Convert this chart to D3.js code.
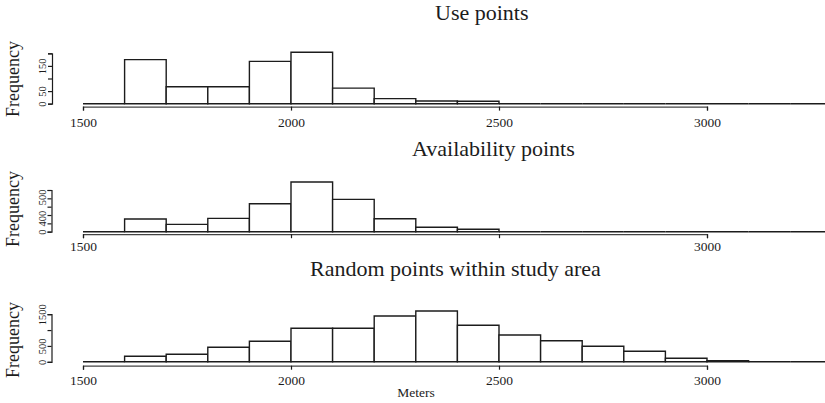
<!DOCTYPE html>
<html>
<head>
<meta charset="utf-8">
<script src="https://cdn.jsdelivr.net/npm/d3@7"></script>
<style>
  html, body { margin: 0; padding: 0; background: #fff; }
  svg { display: block; font-family: "Liberation Serif", "DejaVu Serif", serif; }
</style>
</head>
<body>
<svg id="chart" width="825" height="403"></svg>
<script>
// ---------- data ----------
const binStarts = [1500, 1600, 1700, 1800, 1900, 2000, 2100, 2200, 2300, 2400,
                   2500, 2600, 2700, 2800, 2900, 3000, 3100, 3200, 3300];
const binWidth = 100;

const useCounts    = [0, 175, 67, 67, 168, 204, 62, 20, 11, 10, 0, 0, 0, 0, 0, 0, 0, 0, 0];
const availCounts  = [0, 152, 88, 160, 336, 596, 387, 156, 53, 30, 0, 0, 0, 0, 0, 0, 0, 0, 0];
const randomCounts = [0, 173, 236, 457, 646, 1056, 1056, 1443, 1601, 1150, 845, 665, 488, 331, 110, 38, 0, 0, 0];

const titles = ["Use points", "Availability points", "Random points within study area"];
const xTickValues = [1500, 2000, 2500, 3000];
const xTickLabels = [
  ["1500", "2000", "2500", "3000"],
  ["1500", "", "", "3000"],
  ["1500", "2000", "2500", "3000"]
];
const yTickValues = [
  [0, 50, 100, 150, 200],
  [0, 100, 200, 300, 400, 500],
  [0, 500, 1000, 1500]
];
const yTickLabels = [
  ["0", "50", "", "150", ""],
  ["0", "", "", "", "400", "500"],
  ["0", "500", "", "1500"]
];
const yLabel = "Frequency";
const xLabel = "Meters";

// ---------- layout ----------
const svg = d3.select("#chart");
const ink = "#1c1c1c";

const x = d3.scaleLinear().domain([1500, 3000]).range([83, 707]);

const panels = [
  { counts: useCounts,    base: 103.7, top: 53.3, yMax: 200,  axisY: 106.6, titleX: 435, titleY: 20,  labelBase: 127, freqY: 79,  axisX: 52 },
  { counts: availCounts,  base: 231.7, top: 190,  yMax: 500,  axisY: 234.2, titleX: 412, titleY: 156, labelBase: 251, freqY: 209, axisX: 51.5 },
  { counts: randomCounts, base: 361.8, top: 314.2, yMax: 1500, axisY: 365.7, titleX: 310, titleY: 276, labelBase: 385, freqY: 340, axisX: 51.5 }
];

panels.forEach((p, i) => {
  const y = d3.scaleLinear().domain([0, p.yMax]).range([p.base, p.top]);
  const g = svg.append("g");

  // bars as closed paths (zero-count bins draw as flat lines, as in R's hist)
  g.selectAll("path.bar")
    .data(binStarts.map((s, k) => ({ s, c: p.counts[k] })))
    .join("path")
    .attr("class", "bar")
    .attr("d", d => {
      const x0 = x(d.s), x1 = x(d.s + binWidth), y0 = y(0), y1 = y(d.c);
      return `M${x0},${y0}V${y1}H${x1}V${y0}Z`;
    })
    .attr("fill", "#fff")
    .attr("stroke", ink)
    .attr("stroke-width", 1.4);

  // x axis
  const xAxis = d3.axisBottom(x)
    .tickValues(xTickValues)
    .tickFormat((d, k) => xTickLabels[i][k])
    .tickSize(4)
    .tickPadding(0);
  const xg = g.append("g").attr("transform", `translate(0,${p.axisY})`).call(xAxis);
  xg.select(".domain").attr("stroke", "#444").attr("stroke-width", 1.2);
  xg.selectAll(".tick line").attr("stroke", ink).attr("stroke-width", 1.2);
  xg.selectAll(".tick text")
    .attr("font-family", "Liberation Serif, serif")
    .attr("font-size", 13.5)
    .attr("fill", ink)
    .attr("y", null).attr("dy", null)
    .attr("transform", `translate(0,${p.labelBase - p.axisY})`);

  // y axis
  const yAxis = d3.axisLeft(y)
    .tickValues(yTickValues[i])
    .tickFormat((d, k) => yTickLabels[i][k])
    .tickSize(4)
    .tickPadding(2);
  const yg = g.append("g").attr("transform", `translate(${p.axisX},0)`).call(yAxis);
  yg.select(".domain").attr("stroke", ink).attr("stroke-width", 1.2);
  yg.selectAll(".tick line").attr("stroke", ink).attr("stroke-width", 1.2);
  yg.selectAll(".tick text")
    .attr("font-family", "Liberation Serif, serif")
    .attr("font-size", 10.5)
    .attr("fill", ink)
    .attr("x", null).attr("dy", null)
    .attr("text-anchor", d => (i === 1 && d > 0) ? "end" : "middle")
    .attr("transform", d => {
      const shift = (i === 1 && d === 400) ? 12 : (i === 1 && d === 500) ? -1 : 0;
      return `translate(-6,${shift}) rotate(-90)`;
    });

  // title
  svg.append("text")
    .attr("x", p.titleX)
    .attr("y", p.titleY)
    .attr("font-size", 22)
    .attr("fill", ink)
    .text(titles[i]);

  // y label
  svg.append("text")
    .attr("transform", `translate(19,${p.freqY}) rotate(-90)`)
    .attr("text-anchor", "middle")
    .attr("font-size", 18)
    .attr("fill", ink)
    .text(yLabel);
});

svg.append("text")
  .attr("x", 416)
  .attr("y", 397)
  .attr("text-anchor", "middle")
  .attr("font-size", 13.5)
  .attr("fill", ink)
  .text(xLabel);
</script>
</body>
</html>
